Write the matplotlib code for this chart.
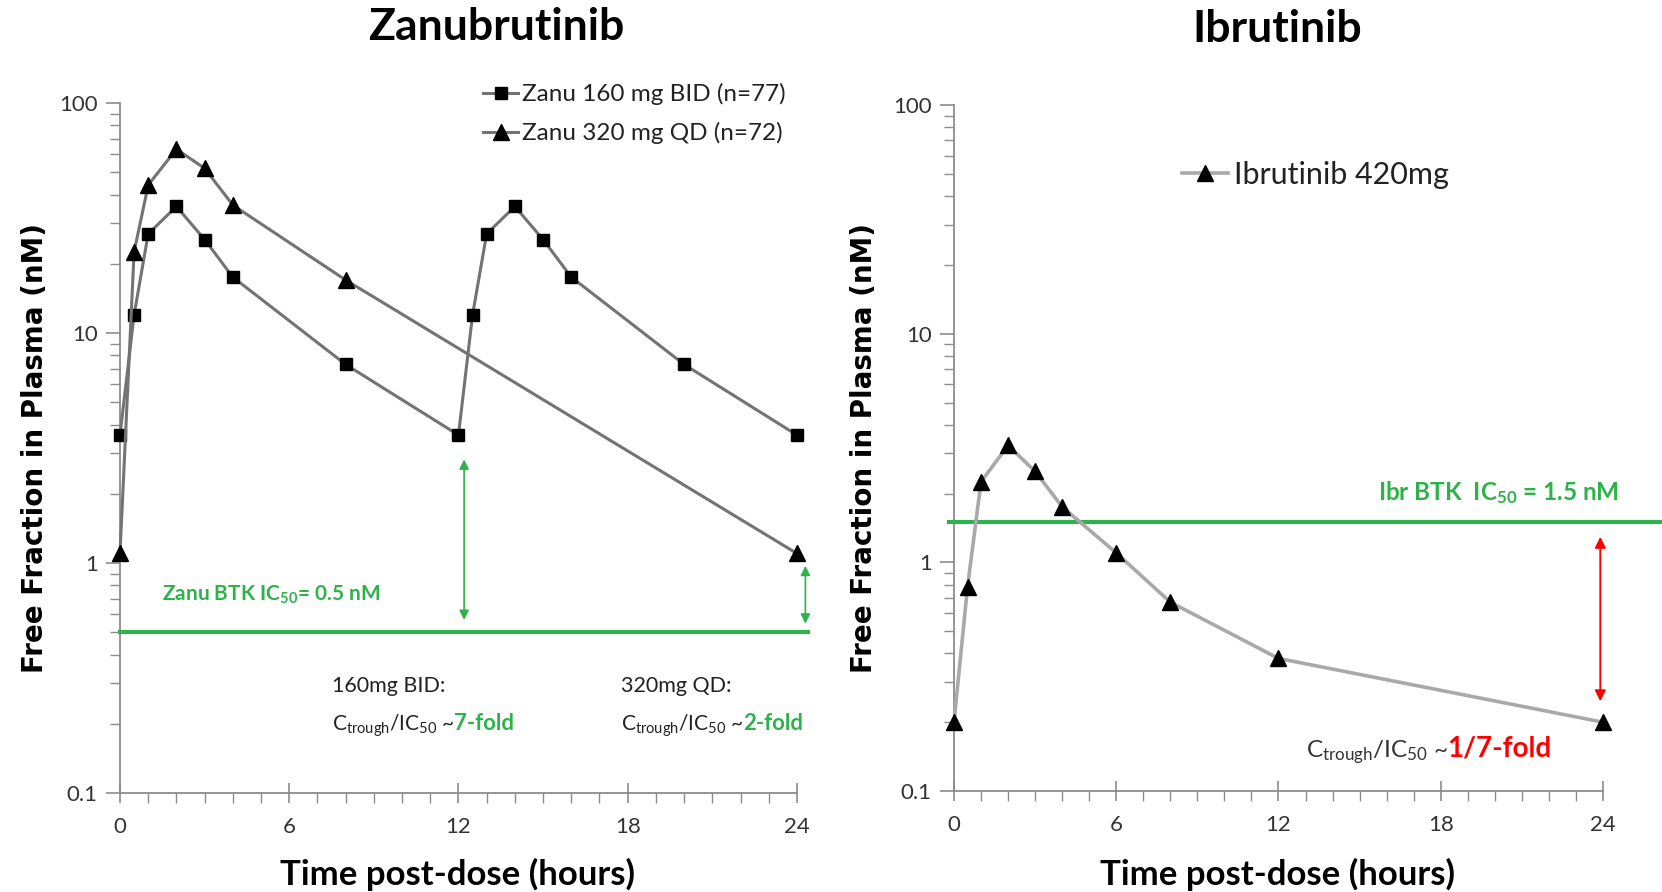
import matplotlib
matplotlib.use('Agg')
import matplotlib.pyplot as plt
from matplotlib.ticker import MultipleLocator, LogLocator, NullFormatter

# hours post-dose / free concentration (nM)
zanu_bid_t = [0, 0.5, 1, 2, 3, 4, 8, 12, 12.5, 13, 14, 15, 16, 20, 24]
zanu_bid_c = [3.6, 12, 27, 35.5, 25.5, 17.5, 7.3, 3.6, 12, 27, 35.5, 25.5, 17.5, 7.3, 3.6]
zanu_qd_t = [0, 0.5, 1, 2, 3, 4, 8, 24]
zanu_qd_c = [1.1, 22.5, 44, 63, 52, 36, 17, 1.1]
ibr_t = [0, 0.5, 1, 2, 3, 4, 6, 8, 12, 24]
ibr_c = [0.2, 0.78, 2.25, 3.25, 2.5, 1.75, 1.1, 0.67, 0.38, 0.2]
zanu_ic50 = 0.5
ibr_ic50 = 1.5
xticks = [0, 6, 12, 18, 24]
yticks = [0.1, 1, 10, 100]
ytick_labels = ['0.1', '1', '10', '100']

green = '#2db34a'
red = '#ff0000'
axcol = '#8c8c8c'

plt.rcParams['font.family'] = ['Lato', 'DejaVu Sans']
plt.rcParams['mathtext.fontset'] = 'custom'
plt.rcParams['mathtext.rm'] = 'Lato'
plt.rcParams['mathtext.it'] = 'Lato:italic'
plt.rcParams['mathtext.bf'] = 'Lato:bold'

fig = plt.figure(figsize=(16.62, 8.92), dpi=100)
ax1 = fig.add_axes([0.0722, 0.111, 0.4073, 0.7735])
ax2 = fig.add_axes([0.574, 0.1132, 0.3905, 0.769])


def style(ax):
    ax.set_yscale('log')
    ax.set_xlim(0, 24)
    ax.set_ylim(0.1, 100)
    for s in ['top', 'right']:
        ax.spines[s].set_visible(False)
    for s in ['left', 'bottom']:
        ax.spines[s].set_color(axcol)
        ax.spines[s].set_linewidth(1.3)
    ax.set_xticks(xticks)
    ax.xaxis.set_minor_locator(MultipleLocator(1))
    ax.set_yticks(yticks, ytick_labels)
    ax.yaxis.set_minor_locator(LogLocator(base=10, subs=range(2, 10)))
    ax.yaxis.set_minor_formatter(NullFormatter())
    ax.tick_params(axis='x', which='major', direction='inout', length=14, width=1.2,
                   color=axcol, pad=10, labelsize=16, labelcolor='#333333')
    ax.tick_params(axis='x', which='minor', direction='out', length=7, width=1, color=axcol)
    ax.tick_params(axis='y', which='major', direction='out', length=10, width=1.2,
                   color=axcol, pad=6, labelsize=16, labelcolor='#333333')
    ax.tick_params(axis='y', which='minor', direction='out', length=7, width=1, color=axcol)


style(ax1)
style(ax2)

# Zanubrutinib panel
ax1.plot(zanu_bid_t, zanu_bid_c, color='#737373', lw=2.2, marker='s', ms=9,
         mfc='k', mec='k', clip_on=False, zorder=4, label='Zanu 160 mg BID (n=77)')
ax1.plot(zanu_qd_t, zanu_qd_c, color='#737373', lw=2.2, marker='^', ms=11,
         mfc='k', mec='k', clip_on=False, zorder=4, label='Zanu 320 mg QD (n=72)')
ax1.plot([0, 24.4], [zanu_ic50, zanu_ic50], color=green, lw=3, clip_on=False, zorder=3)

ax1.annotate('', xy=(12.2, 0.55), xytext=(12.2, 2.9), annotation_clip=False,
             arrowprops=dict(arrowstyle='<|-|>', color=green, lw=1.2, mutation_scale=14))
ax1.annotate('', xy=(24.3, 0.53), xytext=(24.3, 1.0), annotation_clip=False,
             arrowprops=dict(arrowstyle='<|-|>', color=green, lw=1.2, mutation_scale=14))

ax1.text(1.5, 0.73, r'Zanu BTK IC$_{\mathbf{50}}$= 0.5 nM', color=green, fontsize=15,
         fontweight='bold', va='center', ha='left')
ax1.text(7.5, 0.274, '160mg BID:', fontsize=15.5, color='#222222', va='baseline')
ax1.text(17.75, 0.274, '320mg QD:', fontsize=15.5, color='#222222', va='baseline')
t1 = ax1.text(7.5, 0.187, r'C$_{\mathrm{trough}}$/IC$_{50}$ ~', fontsize=15, color='#222222', va='baseline')
t2 = ax1.text(17.75, 0.187, r'C$_{\mathrm{trough}}$/IC$_{50}$ ~', fontsize=15, color='#222222', va='baseline')

ax1.legend(loc='upper right', bbox_to_anchor=(786 / 1662, 1 - 83 / 892), bbox_transform=fig.transFigure,
           frameon=False, fontsize=17.5, handlelength=1.4, handletextpad=0.2, labelspacing=0.7,
           borderpad=0, borderaxespad=0, labelcolor='#222222')

# Ibrutinib panel
ax2.plot(ibr_t, ibr_c, color='#a9a9a9', lw=2.6, marker='^', ms=11, mfc='k', mec='k',
         clip_on=False, zorder=4, label='Ibrutinib 420mg')
ax2.plot([-0.2, 26.3], [ibr_ic50, ibr_ic50], color=green, lw=3, clip_on=False, zorder=3)
ax2.annotate('', xy=(23.9, 1.33), xytext=(23.9, 0.24), annotation_clip=False,
             arrowprops=dict(arrowstyle='<|-|>', color=red, lw=1.4, mutation_scale=16))
ax2.text(24.6, 2.02, r'Ibr BTK  IC$_{\mathbf{50}}$ = 1.5 nM', color=green, fontsize=17.5,
         fontweight='bold', va='center', ha='right')
t3 = ax2.text(13.0, 0.141, r'C$_{\mathrm{trough}}$/IC$_{50}$ ~', fontsize=17.5, color='#333333', va='baseline')

ax2.legend(loc='upper left', bbox_to_anchor=(1182 / 1662, 1 - 161 / 892), bbox_transform=fig.transFigure,
           frameon=False, fontsize=22, handlelength=1.5, handletextpad=0.2,
           borderpad=0, borderaxespad=0, labelcolor='#222222')

# coloured tails after the C_trough texts
fig.canvas.draw()
for ax, t, y, s, c, fs in [(ax1, t1, 0.187, '7-fold', green, 16), (ax1, t2, 0.187, '2-fold', green, 16),
                           (ax2, t3, 0.141, '1/7-fold', red, 20)]:
    bb = t.get_window_extent()
    xe = ax.transData.inverted().transform((bb.x1, bb.y0))[0]
    ax.text(xe, y, s, fontsize=fs, color=c, fontweight='bold', va='baseline', ha='left')

# titles and axis labels
fig.text(496 / 1662, 1 - 27 / 892, 'Zanubrutinib', ha='center', va='center', fontsize=32,
         fontweight='bold')
fig.text(1277 / 1662, 1 - 29 / 892, 'Ibrutinib', ha='center', va='center', fontsize=32,
         fontweight='bold')
for xl in [35, 864]:
    fig.text(xl / 1662, 1 - 448 / 892, 'Free Fraction in Plasma (nM)', rotation=90, ha='center',
             va='center', fontsize=20, fontweight='bold', family=['DejaVu Sans'])
for xc in [458, 1277]:
    fig.text(xc / 1662, 1 - 874 / 892, 'Time post-dose (hours)', ha='center', va='center',
             fontsize=25, fontweight='bold')

fig.savefig('out.png', dpi=100)
